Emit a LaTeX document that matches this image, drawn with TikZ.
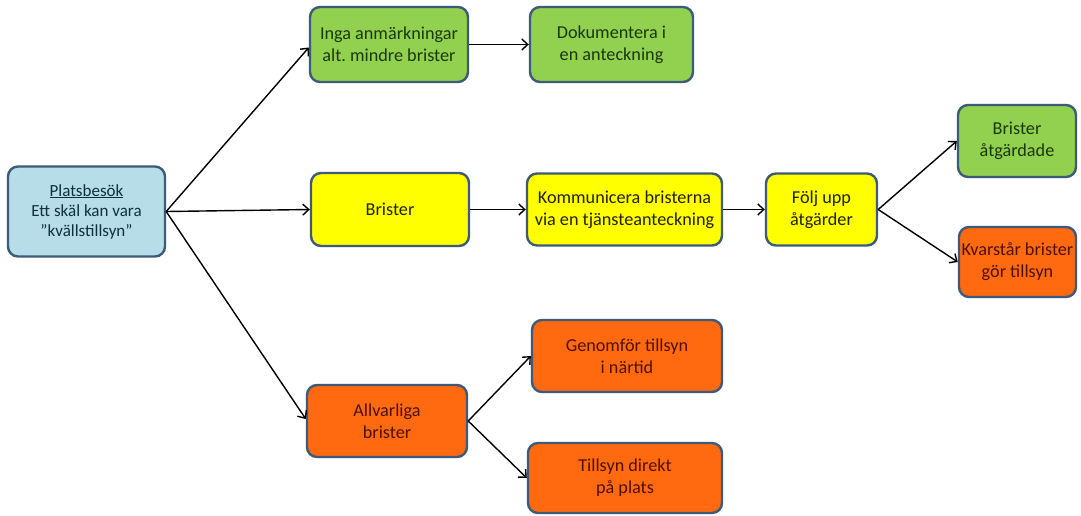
\documentclass[tikz,border=0pt]{standalone}
\usepackage{fontspec}
\setmainfont{Carlito}
\usetikzlibrary{arrows.meta}
\frenchspacing
\definecolor{bordc}{HTML}{3D5A78}
\definecolor{bluef}{HTML}{B7DDE8}
\definecolor{greenf}{HTML}{92D050}
\definecolor{yellowf}{HTML}{FFFF00}
\definecolor{orangef}{HTML}{FF6A10}
\definecolor{bluet}{HTML}{10303F}
\definecolor{greent}{HTML}{1A380A}
\definecolor{yellowt}{HTML}{222208}
\definecolor{oranget}{HTML}{4F1000}
\tikzset{
  box/.style={draw=bordc, line width=2.4pt, rounded corners=10pt, align=center,
    inner sep=0pt, font=\fontsize{18.2}{22}\selectfont},
  bluebox/.style={box, fill=bluef, text=bluet, font=\fontsize{17}{20}\selectfont},
  greenbox/.style={box, fill=greenf, text=greent},
  yellowbox/.style={box, fill=yellowf, text=yellowt},
  orangebox/.style={box, fill=orangef, text=oranget},
  conn/.style={line width=1.4pt, black, -{Straight Barb[length=6pt,width=11pt,line width=1.4pt]}},
}
\begin{document}
\begin{tikzpicture}[x=1pt,y=-1pt]
\useasboundingbox (0,0) rectangle (1081,515);
\fill[white] (0,0) rectangle (1081,515);
\node[bluebox, minimum width=157pt, minimum height=90pt] (plats) at (86.5,211.5)
  {\underline{Platsbesök}\\Ett skäl kan vara\\”kvällstillsyn”};
\node[greenbox, minimum width=158pt, minimum height=75pt] (inga) at (389,44.5)
  {Inga anmärkningar\\alt. mindre brister};
\node[greenbox, minimum width=163pt, minimum height=75pt] (dok) at (611.5,44.5)
  {Dokumentera i\\en anteckning};
\node[yellowbox, minimum width=158pt, minimum height=73pt] (brister) at (390,209.5)
  {Brister};
\node[yellowbox, minimum width=195pt, minimum height=72pt] (komm) at (624.5,209.5)
  {Kommunicera bristerna\\via en tjänsteanteckning};
\node[yellowbox, minimum width=111pt, minimum height=72pt] (folj) at (821.5,209.5)
  {Följ upp\\åtgärder};
\node[greenbox, minimum width=118pt, minimum height=72pt] (atg) at (1017,141)
  {Brister\\åtgärdade};
\node[orangebox, minimum width=117pt, minimum height=70pt] (kvar) at (1017.5,262)
  {Kvarstår brister\\gör tillsyn};
\node[orangebox, minimum width=160pt, minimum height=72pt] (allv) at (387,421)
  {Allvarliga\\brister};
\node[orangebox, minimum width=190pt, minimum height=72pt] (genom) at (627,356)
  {Genomför tillsyn\\i närtid};
\node[orangebox, minimum width=194pt, minimum height=70pt] (direkt) at (625,478)
  {Tillsyn direkt\\på plats};
\draw[conn] (plats.east) -- ([yshift=-3pt]inga.west);
\draw[conn] (plats.east) -- (brister.west);
\draw[conn] (plats.east) -- ([yshift=2pt]allv.west);
\draw[conn] (inga.east) -- (dok.west);
\draw[conn] (brister.east) -- (komm.west);
\draw[conn] (komm.east) -- (folj.west);
\draw[conn] (folj.east) -- (atg.west);
\draw[conn] (folj.east) -- (kvar.west);
\draw[conn] (allv.east) -- (genom.west);
\draw[conn] (allv.east) -- (direkt.west);
\end{tikzpicture}
\end{document}
